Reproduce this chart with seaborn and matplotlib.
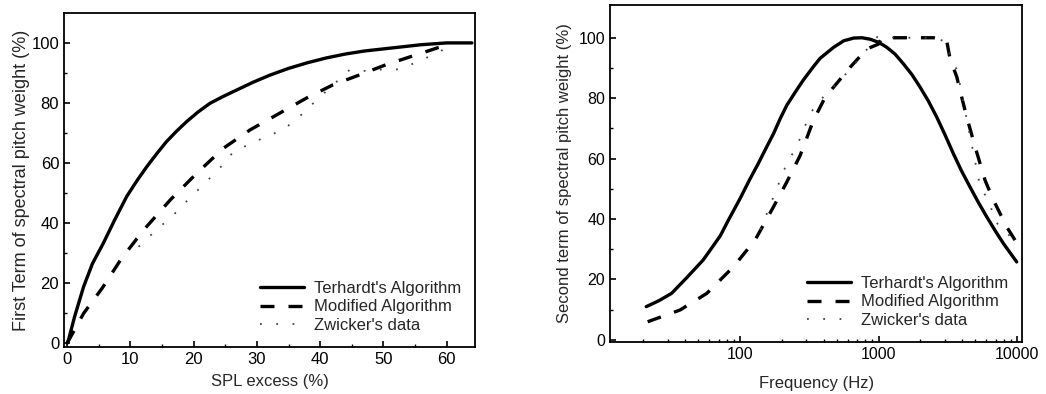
import numpy as np
import pandas as pd
import matplotlib
matplotlib.use("Agg")
import matplotlib.pyplot as plt
import seaborn as sns
from matplotlib.ticker import MultipleLocator, FixedLocator, NullFormatter

# ---- Left panel data ----
spl_terhardt = [0, 0.2, 1.2, 2.6, 4, 5.7, 7.5, 9.4, 11, 12.6, 14.2, 15.7, 17.3, 18.9, 20.7, 22.6, 24.7, 26.8,
                29.4, 32.1, 35, 38, 41, 44, 47, 50, 53, 56, 60, 64]
w1_terhardt = [0, 1, 9, 18.8, 26.5, 33.2, 41, 48.8, 54, 58.8, 63.2, 67.1, 70.6, 73.8, 77, 79.9, 82.2, 84.3,
               86.9, 89.3, 91.5, 93.4, 95, 96.3, 97.3, 98, 98.7, 99.4, 100, 100]
spl_modified = [0, 2.6, 5.5, 8.6, 12.1, 16.3, 20.5, 24.7, 28.9, 33.7, 37.9, 42, 46.3, 50.5, 55.3, 59.5, 60.5]
w1_modified = [0, 9.9, 18.2, 28.2, 37.7, 47.7, 56.6, 64.9, 71, 76.7, 81.7, 86, 89.4, 92.8, 96.1, 99, 100]
spl_zwicker = [11.3, 13.9, 16.8, 19.1, 21.5, 24.1, 26.3, 29.2, 31.6, 34.2, 36.8, 39.5, 44.7, 47.4, 49.5, 52, 55, 57.9, 60]
w1_zwicker = [32.1, 37.3, 42.7, 47.7, 52.7, 58.2, 63.8, 66.6, 68.9, 71.1, 75.6, 81.1, 91.1, 90.6, 91.1, 91.1, 93.3, 96.1, 98.3]

# ---- Right panel data ----
f_terhardt = [21, 26, 32, 41, 54, 61, 72, 82, 100, 117, 135, 154, 174, 195, 217, 250, 286, 339, 378, 472, 560,
              661, 760, 871, 1000, 1148, 1320, 1514, 1740, 1995, 2290, 2630, 3020, 3467, 3980, 4571, 5250,
              6039, 6930, 7962, 9931]
w2_terhardt = [11, 13, 15.4, 20.5, 26.4, 29.8, 34.5, 39.5, 46.8, 53, 58.3, 63.5, 68.2, 73.3, 77.6, 82, 86, 90.5,
               93.2, 96.8, 99, 99.9, 100, 99.5, 98.5, 96.8, 94.5, 91.3, 87.8, 83.6, 79, 73.7, 67.8, 61.6, 55.8,
               50.6, 45.5, 40.7, 36.2, 31.9, 25.8]
f_modified = [21.5, 36.9, 57.5, 89.5, 128, 174, 217, 271, 338, 411, 622, 822, 998, 1055, 2490, 3100, 3280,
              3670, 3870, 4330, 4980, 5870, 6750, 8410, 10000]
w2_modified = [6, 9.9, 15.4, 24.2, 33, 44, 52.2, 61, 72.6, 80.3, 90.2, 96.3, 97.9, 100, 100, 99, 93, 87,
               82.5, 73.7, 63.8, 52.8, 46.2, 37.4, 31.9]
f_zwicker = [140, 217, 256, 287, 320, 400, 528, 663, 980, 1350, 1790, 2350, 2960, 3700, 4590, 5410, 6410, 6770, 10000]
w2_zwicker = [36.4, 58.4, 63.9, 69.5, 75, 80.5, 86, 91, 100.3, 100, 100, 100, 99, 89, 67, 50.7, 45, 39.7, 32]

labels = ["Terhardt's Algorithm", "Modified Algorithm", "Zwicker's data"]

sns.set_style("ticks")
plt.rcParams['font.family'] = ['Liberation Sans', 'DejaVu Sans']
plt.rcParams['font.size'] = 11

fig = plt.figure(figsize=(10.46, 3.94), dpi=100)
ax1 = fig.add_axes([0.0612, 0.1193, 0.393, 0.848])
ax2 = fig.add_axes([0.5832, 0.132, 0.394, 0.855])

styles = [dict(color="black", lw=2.4, ls="-"),
          dict(color="black", lw=2.4, ls=(0, (4.2, 4.2))),
          dict(color="#444444", lw=1.3, ls=(0, (1, 8)))]

def draw(ax, series, ticksize):
    for (x, y), lab, st in zip(series, labels, styles):
        df = pd.DataFrame({"x": x, "y": y})
        sns.lineplot(data=df, x="x", y="y", ax=ax, label=lab, sort=False,
                     color=st["color"], linewidth=st["lw"], linestyle=st["ls"])
    ax.legend(loc="lower right", frameon=False, fontsize=12,
              handlelength=2.6, handletextpad=0.6, labelspacing=0.2,
              borderaxespad=0.45, borderpad=0.4)
    for sp in ax.spines.values():
        sp.set_linewidth(1.3)
        sp.set_color("black")
    ax.tick_params(which="both", direction="in", top=False, right=False, colors="black",
                   labelsize=ticksize)
    ax.tick_params(which="major", length=4, width=1.2)
    ax.tick_params(which="minor", length=2.5, width=1.0)

draw(ax1, [(spl_terhardt, w1_terhardt), (spl_modified, w1_modified), (spl_zwicker, w1_zwicker)], 12)
ax1.set_xlim(-0.5, 64.5)
ax1.set_ylim(-1.3, 110)
ax1.xaxis.set_major_locator(MultipleLocator(10))
ax1.xaxis.set_minor_locator(MultipleLocator(5))
ax1.yaxis.set_major_locator(FixedLocator([0, 20, 40, 60, 80, 100]))
ax1.yaxis.set_minor_locator(FixedLocator([10, 30, 50, 70, 90]))
ax1.set_xlabel("SPL excess (%)", fontsize=12, labelpad=5)
ax1.set_ylabel("First Term of spectral pitch weight (%)", fontsize=13, labelpad=1)

draw(ax2, [(f_terhardt, w2_terhardt), (f_modified, w2_modified), (f_zwicker, w2_zwicker)], 11.5)
ax2.set_xscale("log")
ax2.set_xlim(11.5, 10870)
ax2.set_ylim(-0.7, 110.8)
ax2.xaxis.set_major_locator(FixedLocator([100, 1000, 10000]))
ax2.set_xticklabels(["100", "1000", "10000"])
ax2.xaxis.set_minor_locator(FixedLocator([20, 30, 40, 50, 60, 70, 80, 90, 200, 300, 400, 500, 600, 700, 800, 900,
                                          2000, 3000, 4000, 5000, 6000, 7000, 8000, 9000]))
ax2.xaxis.set_minor_formatter(NullFormatter())
ax2.yaxis.set_major_locator(FixedLocator([0, 20, 40, 60, 80, 100]))
ax2.yaxis.set_minor_locator(FixedLocator([10, 30, 50, 70, 90]))
ax2.set_xlabel("Frequency (Hz)", fontsize=12, labelpad=10)
ax2.set_ylabel("Second term of spectral pitch weight (%)", fontsize=12, labelpad=5)

fig.savefig("out.png", dpi=100)
